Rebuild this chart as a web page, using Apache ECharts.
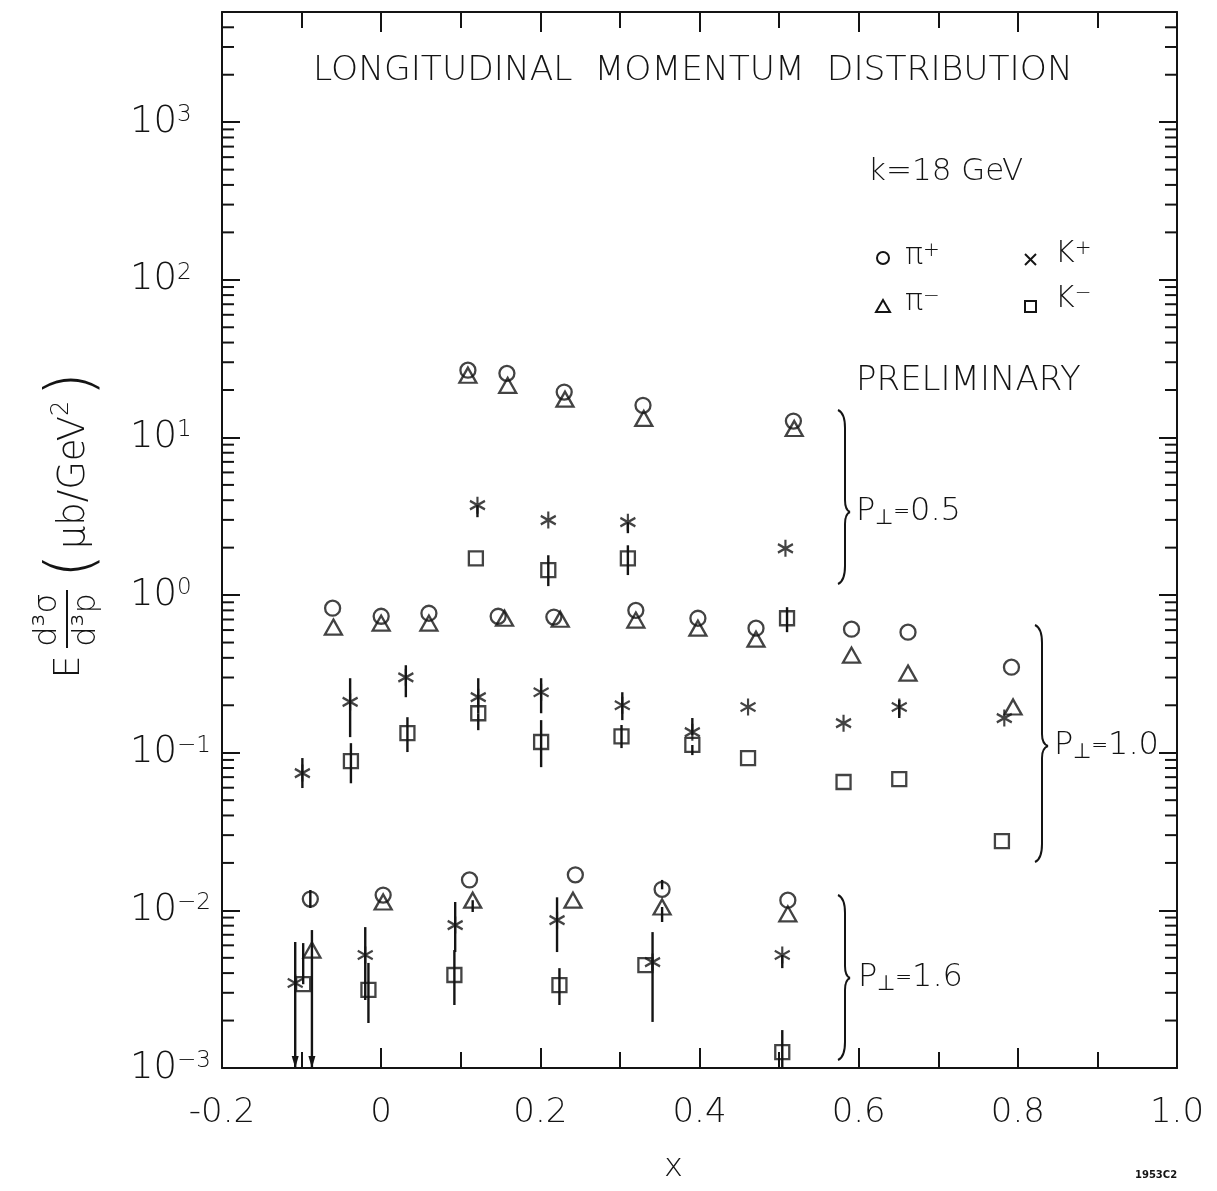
<!DOCTYPE html>
<html><head><meta charset="utf-8">
<script src="https://cdn.jsdelivr.net/npm/echarts@6/dist/echarts.min.js"></script>
<style>html,body{margin:0;padding:0;background:#fff}#c{width:1217px;height:1191px}</style>
</head><body><div id="c"></div>
<script>
// ---------- axis scaffolding ----------
const xTicks = [-0.2, 0, 0.2, 0.4, 0.6, 0.8, 1.0];
const xTickLabels = ['-0.2', '0', '0.2', '0.4', '0.6', '0.8', '1.0'];
const yDecadeExponents = [-3, -2, -1, 0, 1, 2, 3];
const yMinorMultipliers = [2, 3, 4, 5, 6, 7, 8, 9];

// ---------- data: [x, E d3sigma/d3p] ----------
// P_perp = 0.5
const piPlus05  = [[0.109, 26.7], [0.158, 25.5], [0.230, 19.4], [0.329, 16.0], [0.518, 12.7]];
const piMinus05 = [[0.109, 24.8], [0.159, 21.4], [0.231, 17.5], [0.330, 13.2], [0.519, 11.4]];
const kPlus05   = [[0.121, 3.72], [0.210, 2.99], [0.310, 2.90], [0.508, 1.98]];
const kMinus05  = [[0.119, 1.71], [0.210, 1.44], [0.310, 1.71], [0.510, 0.713]];
// P_perp = 1.0
const piPlus10  = [[-0.061, 0.826], [0.0, 0.734], [0.060, 0.767], [0.147, 0.734], [0.217, 0.725], [0.320, 0.80], [0.398, 0.713], [0.471, 0.617], [0.591, 0.608], [0.662, 0.582], [0.792, 0.349]];
const piMinus10 = [[-0.060, 0.627], [0.0, 0.664], [0.060, 0.664], [0.155, 0.713], [0.225, 0.703], [0.320, 0.694], [0.398, 0.617], [0.471, 0.525], [0.591, 0.416], [0.662, 0.320], [0.794, 0.195]];
const kPlus10   = [[-0.099, 0.0743], [-0.039, 0.210], [0.031, 0.301], [0.122, 0.225], [0.201, 0.242], [0.303, 0.200], [0.391, 0.135], [0.461, 0.195], [0.581, 0.154], [0.651, 0.195], [0.783, 0.166]];
const kMinus10  = [[-0.038, 0.0885], [0.033, 0.133], [0.122, 0.178], [0.201, 0.117], [0.302, 0.127], [0.391, 0.112], [0.461, 0.0925], [0.581, 0.0652], [0.651, 0.068], [0.780, 0.0275]];
// P_perp = 1.6
const piPlus16  = [[-0.089, 0.0118], [0.0025, 0.0125], [0.111, 0.0156], [0.244, 0.0168], [0.353, 0.0136], [0.511, 0.0116]];
const piMinus16 = [[-0.087, 0.0056], [0.0025, 0.0113], [0.115, 0.0116], [0.241, 0.0116], [0.353, 0.0105], [0.511, 0.0095]];
const kPlus16   = [[-0.108, 0.00346], [-0.020, 0.00521], [0.093, 0.00807], [0.221, 0.00867], [0.341, 0.0047], [0.504, 0.00521]];
const kMinus16  = [[-0.098, 0.0034], [-0.016, 0.00313], [0.092, 0.00389], [0.224, 0.00336], [0.332, 0.0045], [0.504, 0.00126]];

// ---------- error bars: [x, low, high]; low 0 = runs off the bottom (arrow) ----------
const piPlusErr  = [[-0.089, 0.01035, 0.01346], [0.353, 0.0136, 0.0156]];
const piMinusErr = [[-0.087, 0, 0.0075], [0.115, 0.00976, 0.0116], [0.353, 0.00844, 0.0105]];
const kPlusErr   = [[0.121, 3.12, 3.72], [0.310, 2.47, 2.90],
  [-0.099, 0.0597, 0.0925], [-0.039, 0.1256, 0.297], [0.031, 0.225, 0.359], [0.122, 0.178, 0.297], [0.201, 0.178, 0.297], [0.303, 0.161, 0.242], [0.391, 0.129, 0.166], [0.651, 0.166, 0.216],
  [-0.108, 0, 0.0063], [-0.020, 0.0027, 0.00783], [0.093, 0.00544, 0.0113], [0.221, 0.00544, 0.0121], [0.341, 0.00196, 0.00728], [0.504, 0.0043, 0.00521]];
const kMinusErr  = [[0.210, 1.14, 1.79], [0.310, 1.34, 2.07], [0.510, 0.582, 0.838],
  [-0.038, 0.064, 0.115], [0.033, 0.101, 0.168], [0.122, 0.139, 0.178], [0.201, 0.081, 0.161], [0.302, 0.107, 0.150], [0.391, 0.0966, 0.112],
  [-0.098, 0.0034, 0.0062], [-0.016, 0.00193, 0.00464], [0.092, 0.00251, 0.0056], [0.224, 0.00251, 0.0043], [0.504, 0.0008, 0.00174]];

// ---------- styling ----------
const INK = '#141414';
const FONT = 'DejaVu Sans';
const FW = 200;
const X_MIN = -0.2, X_MAX = 1.0, Y_MIN = 0.001, Y_MAX = 5000;

const yMinorTicks = [];
yDecadeExponents.forEach(e => yMinorMultipliers.forEach(m => { const v = m * Math.pow(10, e); if (v < Y_MAX * 1.0001) yMinorTicks.push([X_MIN, v]); }));

const ASTERISK = 'path://M7,0 L7,16 M0,4 L14,12 M0,12 L14,4';
const hollow = { color: 'rgba(0,0,0,0)', borderColor: INK, borderWidth: 2.3 };

function scatter(name, data, symbol, size) {
  return { name, type: 'scatter', data, symbol, symbolSize: size, itemStyle: hollow, z: 3, silent: true };
}

function errSeries(data) {
  return {
    type: 'custom', data, z: 2, silent: true, clip: false,
    encode: { x: 0, y: [1, 2] },
    renderItem(params, api) {
      const x = api.value(0), lo = api.value(1), hi = api.value(2);
      const cs = params.coordSys;
      const bottom = cs.y + cs.height;
      const pTop = api.coord([x, hi]);
      let yLo = lo > 0 ? api.coord([x, lo])[1] : bottom;
      if (yLo > bottom) yLo = bottom;
      const children = [{ type: 'line', shape: { x1: pTop[0], y1: pTop[1], x2: pTop[0], y2: yLo }, style: { stroke: INK, lineWidth: 2.4 } }];
      if (!(lo > 0)) {
        children.push({ type: 'polygon', shape: { points: [[pTop[0] - 3.5, bottom - 12], [pTop[0] + 3.5, bottom - 12], [pTop[0], bottom]] }, style: { fill: INK } });
      }
      return { type: 'group', children };
    }
  };
}

const minorTickSeries = {
  type: 'custom', data: yMinorTicks, z: 2, silent: true, clip: false,
  encode: { x: 0, y: 1 },
  renderItem(params, api) {
    const cs = params.coordSys;
    const y = api.coord([X_MIN, api.value(1)])[1];
    const l = cs.x, r = cs.x + cs.width;
    return { type: 'group', children: [
      { type: 'line', shape: { x1: l, y1: y, x2: l + 12, y2: y }, style: { stroke: INK, lineWidth: 2 } },
      { type: 'line', shape: { x1: r - 12, y1: y, x2: r, y2: y }, style: { stroke: INK, lineWidth: 2 } }
    ] };
  }
};

function xLabel(v) {
  const i = xTicks.findIndex(t => Math.abs(t - v) < 1e-6);
  return i >= 0 ? xTickLabels[i] : '';
}
function yLabel(v) {
  const e = Math.log10(v), r = Math.round(e);
  if (Math.abs(e - r) > 1e-6) return '';
  if (yDecadeExponents.indexOf(r) < 0) return '';
  return '{b|10}{s|' + (r < 0 ? '\u2212' + (-r) : String(r)) + '}';
}

const axisLineStyle = { show: true, onZero: false, lineStyle: { color: INK, width: 2 } };
const xAxisBase = {
  type: 'value', min: X_MIN, max: X_MAX, interval: 0.2,
  axisLine: axisLineStyle, splitLine: { show: false },
  axisTick: { show: true, inside: true, length: 20, lineStyle: { color: INK, width: 2 } },
  minorTick: { show: true, splitNumber: 2, length: 16, lineStyle: { color: INK, width: 2 } },
  minorSplitLine: { show: false }
};
const yAxisBase = {
  type: 'log', logBase: 10, min: Y_MIN, max: Y_MAX,
  axisLine: axisLineStyle, splitLine: { show: false },
  axisTick: { show: true, inside: true, length: 18, lineStyle: { color: INK, width: 2 } },
  minorTick: { show: false }, minorSplitLine: { show: false }
};

const txt = (text, x, y, size, extra) => ({ type: 'text', x, y, silent: true, style: Object.assign({ text, fill: INK, fontFamily: FONT, fontWeight: FW, fontSize: size, verticalAlign: 'middle', align: 'left' }, extra || {}) });
const seg = (x1, y1, x2, y2, w) => ({ type: 'line', silent: true, shape: { x1, y1, x2, y2 }, style: { stroke: INK, lineWidth: w || 2 } });
const qcurve = (x1, y1, cx, cy, x2, y2) => ({ type: 'bezierCurve', silent: true, shape: { x1, y1, cpx1: cx, cpy1: cy, x2, y2 }, style: { stroke: INK, lineWidth: 2, fill: null } });

function brace(xl, xv, xt, y0, ym, y1) {
  return { type: 'group', silent: true, children: [
    qcurve(xl, y0, xv, y0 + 3, xv, y0 + 18),
    seg(xv, y0 + 18, xv, ym - 12),
    qcurve(xv, ym - 12, xv, ym - 2, xt, ym),
    qcurve(xt, ym, xv, ym + 2, xv, ym + 12),
    seg(xv, ym + 12, xv, y1 - 18),
    qcurve(xv, y1 - 18, xv, y1 - 3, xl, y1)
  ] };
}

const pRich = { a: { fontFamily: FONT, fontWeight: FW, fontSize: 32, fill: INK }, sub: { fontFamily: FONT, fontWeight: FW, fontSize: 21, fill: INK, verticalAlign: 'bottom', padding: [14, 0, 0, 0] }, e: { fontFamily: FONT, fontWeight: FW, fontSize: 20, fill: INK } };
const legRich = { t: { fontFamily: FONT, fontWeight: FW, fontSize: 30, fill: INK }, s: { fontFamily: FONT, fontWeight: FW, fontSize: 20, fill: INK, verticalAlign: 'top' } };

const graphics = [
  txt('LONGITUDINAL  MOMENTUM  DISTRIBUTION', 313, 71, 34.5),
  txt('k=18 GeV', 868, 172, 31),
  // legend
  { type: 'circle', silent: true, shape: { cx: 883, cy: 258, r: 6 }, style: { stroke: INK, lineWidth: 2, fill: null } },
  txt('{t|\u03c0}{s|+}', 905, 256, 30, { rich: legRich }),
  seg(1025, 254, 1036, 265), seg(1025, 265, 1036, 254),
  txt('{t|K}{s|+}', 1055, 254, 30, { rich: legRich }),
  { type: 'polygon', silent: true, shape: { points: [[876, 312], [890, 312], [883, 300]] }, style: { stroke: INK, lineWidth: 2, fill: null } },
  txt('{t|\u03c0}{s|\u2212}', 905, 302, 30, { rich: legRich }),
  { type: 'rect', silent: true, shape: { x: 1025, y: 301, width: 11, height: 11 }, style: { stroke: INK, lineWidth: 2, fill: null } },
  txt('{t|K}{s|\u2212}', 1055, 299, 30, { rich: legRich }),
  txt('PRELIMINARY', 856, 381, 34),
  // braces and P_perp labels
  brace(838, 845, 850, 410, 512, 584),
  txt('{a|P}{sub|\u22a5}{e|=}{a|0.5}', 856, 512, 32, { rich: pRich }),
  brace(1035, 1042, 1048, 625, 746, 862),
  txt('{a|P}{sub|\u22a5}{e|=}{a|1.0}', 1054, 746, 32, { rich: pRich }),
  brace(838, 845, 850, 895, 978, 1060),
  txt('{a|P}{sub|\u22a5}{e|=}{a|1.6}', 858, 978, 32, { rich: pRich }),
  // axis titles
  txt('x', 664, 1168, 32),
  txt('1953C2', 1135, 1175, 10, { fontWeight: 'bold' }),
  { type: 'group', x: 70, y: 520, rotation: Math.PI / 2, silent: true, children: [
    { type: 'text', x: -147, y: 0, style: { text: 'E', fill: INK, fontFamily: FONT, fontWeight: FW, fontSize: 36, align: 'center', verticalAlign: 'middle' } },
    { type: 'text', x: -100, y: -22, style: { text: 'd\u00b3\u03c3', fill: INK, fontFamily: FONT, fontWeight: FW, fontSize: 32, align: 'center', verticalAlign: 'middle' } },
    { type: 'line', shape: { x1: -128, y1: -3, x2: -70, y2: -3 }, style: { stroke: INK, lineWidth: 2 } },
    { type: 'text', x: -100, y: 17, style: { text: 'd\u00b3p', fill: INK, fontFamily: FONT, fontWeight: FW, fontSize: 32, align: 'center', verticalAlign: 'middle' } },
    { type: 'text', x: 45, y: 4, style: {
      text: '{p|(}{t|\u03bcb/GeV}{s|2}{p|)}', align: 'center', verticalAlign: 'middle',
      rich: {
        p: { fontFamily: FONT, fontWeight: FW, fontSize: 64, fill: INK, padding: [0, 4, 0, 4] },
        t: { fontFamily: FONT, fontWeight: FW, fontSize: 37, fill: INK },
        s: { fontFamily: FONT, fontWeight: FW, fontSize: 24, fill: INK, verticalAlign: 'top', padding: [8, 0, 0, 0] }
      } } }
  ] }
];

const option = {
  animation: false,
  backgroundColor: '#ffffff',
  grid: { left: 222, top: 12, right: 40, bottom: 123, containLabel: false },
  xAxis: [
    Object.assign({}, xAxisBase, { position: 'bottom',
      axisLabel: { show: true, margin: 28, formatter: xLabel, color: INK, fontFamily: FONT, fontWeight: FW, fontSize: 34 } }),
    Object.assign({}, xAxisBase, { position: 'top', axisLabel: { show: false } })
  ],
  yAxis: [
    Object.assign({}, yAxisBase, { position: 'left',
      axisLabel: { show: true, margin: 92, align: 'left', formatter: yLabel, showMaxLabel: false,
        rich: {
          b: { fontFamily: FONT, fontWeight: FW, fontSize: 37, color: INK },
          s: { fontFamily: FONT, fontWeight: FW, fontSize: 23, color: INK, verticalAlign: 'top' }
        } } }),
    Object.assign({}, yAxisBase, { position: 'right', axisLabel: { show: false } })
  ],
  series: [
    minorTickSeries,
    errSeries(piPlusErr), errSeries(piMinusErr), errSeries(kPlusErr), errSeries(kMinusErr),
    scatter('\u03c0+', [...piPlus05, ...piPlus10, ...piPlus16], 'circle', 15),
    scatter('\u03c0-', [...piMinus05, ...piMinus10, ...piMinus16], 'triangle', [17, 15]),
    scatter('K+', [...kPlus05, ...kPlus10, ...kPlus16], ASTERISK, [15, 17]),
    scatter('K-', [...kMinus05, ...kMinus10, ...kMinus16], 'rect', 14)
  ],
  graphic: graphics
};

const chart = echarts.init(document.getElementById('c'), null, { renderer: 'canvas' });
chart.setOption(option);
</script>
</body></html>
